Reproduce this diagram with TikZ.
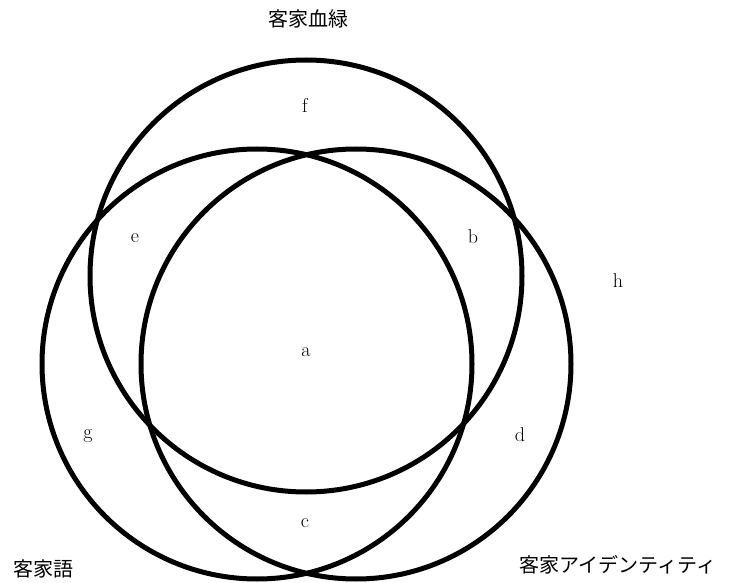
\documentclass[tikz,border=0pt]{standalone}
\usepackage{fontspec}
\newfontfamily\jpfont{Noto Sans CJK JP}
\usetikzlibrary{positioning}

\begin{document}
\begin{tikzpicture}[
    x=1pt, y=-1pt,
    ring/.style={
        draw=black,
        line width=5pt
    },
    region/.style={font=\fontsize{20}{24}\selectfont, inner sep=0pt},
    setname/.style={font=\jpfont\fontsize{20}{24}\selectfont, inner sep=0pt}
]

\useasboundingbox (0,0) rectangle (732,583);

% Circles
\draw[ring] (306,276) circle[radius=216];
\draw[ring] (257,364) circle[radius=215];
\draw[ring] (356,364) circle[radius=215];

% Set names
\node[setname] (blood) at (308,19) {客家血緑};
\node[setname] (lang) at (43,569) {客家語};
\node[setname] (ident) at (618,565) {客家アイデンティティ};

% Regions
\node[region] (a) at (306,352) {a};
\node[region] (b) at (473,237) {b};
\node[region] (c) at (305,523) {c};
\node[region] (d) at (520,435) {d};
\node[region] (e) at (135,238) {e};
\node[region] (f) at (305,105) {f};
\node[region] (g) at (88,436) {g};
\node[region] (h) at (618,281) {h};

\end{tikzpicture}
\end{document}
